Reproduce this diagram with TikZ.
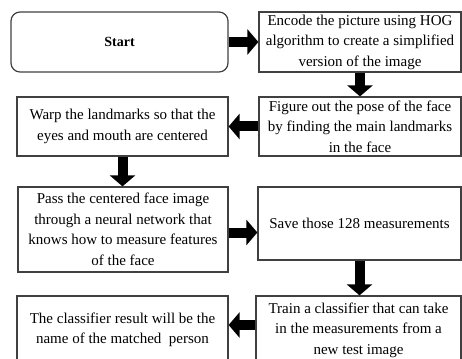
\documentclass[tikz,border=0pt]{standalone}
\usepackage{fontspec}
\setmainfont{Liberation Serif}
\usetikzlibrary{arrows.meta}
\begin{document}
\begin{tikzpicture}[x=1pt,y=-1pt,
	box/.style={draw=black!75,line width=1.2pt,align=center,inner sep=1pt,font=\fontsize{15}{20.5}\selectfont},
	blk/.style={line width=10pt,-{Triangle[length=11pt,width=25pt]}}]
			\clip (0,0) rectangle (462,358);
			\node[box,rounded corners=9pt,minimum width=217pt,minimum height=60pt,font=\fontsize{14}{17}\selectfont\bfseries] (start) at (119.5,42) {Start};
			\node[box,minimum width=202pt,minimum height=60pt] (encode) at (360,42) {Encode the picture using HOG\\algorithm to create a simplified\\version of the image};
			\node[box,minimum width=202pt,minimum height=59pt] (figure) at (360,126.5) {Figure out the pose of the face\\by finding the main landmarks\\in the face};
			\node[box,minimum width=211pt,minimum height=59pt] (warp) at (122.5,126.5) {Warp the landmarks so that the\\eyes and mouth are centered};
			\node[box,minimum width=210pt,minimum height=85pt] (pass) at (123,229.5) {Pass the centered face image\\through a neural network that\\knows how to measure features\\of the face};
			\node[box,minimum width=203pt,minimum height=73pt] (save) at (359.5,223.5) {Save those 128 measurements};
			\node[box,minimum width=205pt,minimum height=68pt] (train) at (358.5,330) {Train a classifier that can take\\in the measurements from a\\new test image};
			\node[box,minimum width=211pt,minimum height=68pt] (result) at (122.5,330) {The classifier result will be the\\name of the matched\ \ person};
			% block arrows
			\draw[blk] (start) -- (encode);
			\draw[blk] (encode) -- (figure);
			\draw[blk] (figure) -- (warp);
			\draw[blk] (warp.south) -- (warp.south |- pass.north);
			\draw[blk] ([yshift=-3pt]pass.east) -- ([yshift=-3pt]pass.east -| save.west);
			\draw[blk] (save) -- (save |- train.north);
			\draw[blk] ([yshift=5pt]train.west) -- ([yshift=5pt]train.west -| result.east);
		\end{tikzpicture}
\end{document}
